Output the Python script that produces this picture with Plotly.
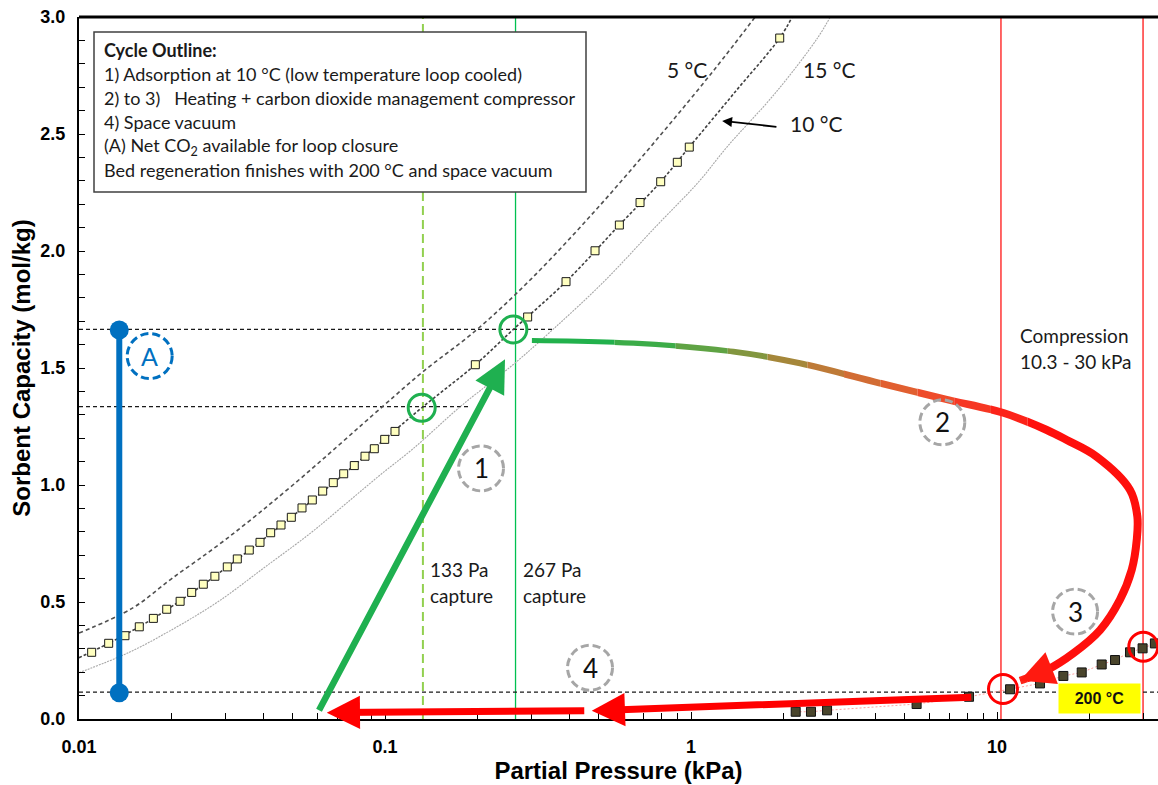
import numpy as np
import plotly.graph_objects as go

# ---------------- data ----------------
# 10 °C isotherm measured points (square markers)
P10_pts = [0.0110, 0.0125, 0.01413, 0.01574, 0.0175, 0.01935, 0.0214, 0.02335, 0.02548, 0.0278,
           0.03052, 0.03291, 0.03601, 0.03904, 0.0423, 0.04572, 0.04941, 0.05355, 0.05786, 0.06257,
           0.06776, 0.07328, 0.07936, 0.08602, 0.09226, 0.09977, 0.1078, 0.1973, 0.2925, 0.3904,
           0.4856, 0.5832, 0.6814, 0.796, 0.902, 0.987, 1.949]
Q10_pts = [0.285, 0.3235, 0.356, 0.394, 0.430, 0.469, 0.503, 0.541, 0.576, 0.610,
           0.650, 0.684, 0.722, 0.755, 0.796, 0.829, 0.862, 0.902, 0.936, 0.974,
           1.010, 1.048, 1.083, 1.123, 1.155, 1.195, 1.229, 1.514, 1.718, 1.869,
           2.001, 2.111, 2.207, 2.296, 2.379, 2.444, 2.910]

# isotherm curves
P10_line = [0.01, 0.0125, 0.0175, 0.025, 0.035, 0.05, 0.07, 0.1, 0.1318, 0.1973, 0.2627, 0.3904,
            0.5832, 0.796, 0.987, 1.4, 1.949, 2.14]
Q10_line = [0.262, 0.3235, 0.430, 0.567, 0.709, 0.868, 1.024, 1.197, 1.33, 1.514, 1.665, 1.869,
            2.111, 2.296, 2.444, 2.683, 2.91, 3.0]
P5_line = [0.01, 0.015, 0.02, 0.03, 0.05, 0.0985, 0.133, 0.2, 0.3, 0.5, 0.8, 1.2, 1.62]
Q5_line = [0.367, 0.475, 0.598, 0.765, 1.00, 1.337, 1.484, 1.665, 1.88, 2.19, 2.50, 2.78, 3.0]
P15_line = [0.01, 0.0146, 0.0209, 0.0286, 0.0406, 0.0573, 0.077, 0.0975, 0.1235, 0.177, 0.262,
            0.354, 0.519, 0.776, 1.06, 1.31, 1.9, 2.59, 2.85]
Q15_line = [0.198, 0.285, 0.394, 0.503, 0.650, 0.796, 0.936, 1.048, 1.155, 1.337, 1.514,
            1.665, 1.869, 2.111, 2.296, 2.444, 2.68, 2.91, 3.0]

# 200 °C isotherm points
P200 = [2.198, 2.466, 2.783, 5.46, 8.10, 11.03, 13.82, 16.47, 18.91, 21.98, 24.3, 27.2, 29.9, 32.8]
Q200 = [0.031, 0.031, 0.037, 0.064, 0.095, 0.127, 0.152, 0.184, 0.199, 0.233, 0.252, 0.285, 0.302, 0.323]

# reference lines
H_Q = [1.665, 1.335, 0.115]          # horizontal dashed lines
H_Pend = [0.354, 0.19, 40.0]         # where each horizontal line stops
V_capture = [0.133, 0.267]           # capture pressures (kPa)
V_compress = [10.3, 30.0]            # compression range (kPa)

# state points
P_green_c = [0.1318, 0.2627]
Q_green_c = [1.330, 1.665]
P_red_c = [10.46, 30.06]
Q_red_c = [0.128, 0.309]
P_A = [0.01354, 0.01354]
Q_A = [0.112, 1.662]

# step 2/3 path (heating + compression)
C2_P = [0.302, 0.648, 1.375, 2.271, 4.146, 6.85, 10.49, 14.54, 16.9, 21.17, 27.2, 28.74, 28.61,
        27.55, 25.2, 21.71, 17.76, 14.54, 11.89]
C2_Q = [1.617, 1.606, 1.570, 1.520, 1.435, 1.365, 1.308, 1.235, 1.192, 1.121, 0.979, 0.865, 0.765,
        0.637, 0.509, 0.380, 0.281, 0.209, 0.164]

# straight arrows: (tail P, tail Q, tip P, tip Q)
ARROW1 = (0.0605, 0.031, 0.2467, 1.537)
ARROW4A = (8.33, 0.093, 0.4737, 0.0355)
ARROW4B = (0.4529, 0.0355, 0.0645, 0.027)
ARROW10C = (1.923, 2.53, 1.264, 2.556)

# step labels
STEP_LABELS = ["1", "2", "3", "4"]
STEP_P = [0.2059, 6.625, 17.99, 0.4677]
STEP_Q = [1.071, 1.268, 0.459, 0.219]
LABEL_A_P, LABEL_A_Q = 0.01702, 1.551

# text labels
ISO_TEXT = ["5 °C", "15 °C", "10 °C"]
ISO_P = [0.97, 2.825, 2.562]
ISO_Q = [2.774, 2.774, 2.547]

OUTLINE = ["<b>Cycle Outline:</b>",
           "1) Adsorption at 10 °C (low temperature loop cooled)",
           "2) to 3)\u00a0\u00a0 Heating + carbon dioxide management compressor",
           "4) Space vacuum",
           "(A) Net CO<sub>2</sub> available for loop closure",
           "Bed regeneration finishes with 200 °C and space vacuum"]

XTICKS = [0.01, 0.1, 1, 10]
XTICKTEXT = ["0.01", "0.1", "1", "10"]
XMINOR = [m * d for d in [0.01, 0.1, 1, 10] for m in range(2, 10)]
X_RANGE = [-2, 1.526]
Y_RANGE = [0, 3]

# ---------------- styles / geometry ----------------
FONT_TXT = "Lato, 'Noto Sans', sans-serif"
FONT_AX = "'Liberation Sans', Arial, sans-serif"
# colour bands (log10 kPa edges) for the heating path colour ramp
BAND_EDGES = [-0.60, -0.25, -0.05, 0.12, 0.25, 0.38, 0.50, 0.62, 0.74, 0.86, 0.98, 1.10, 1.526]
BAND_COLORS = ["rgb(34,177,76)", "rgb(60,172,72)", "rgb(95,163,68)", "rgb(130,150,63)",
               "rgb(165,135,58)", "rgb(190,122,55)", "rgb(210,108,52)", "rgb(225,95,48)",
               "rgb(238,75,42)", "rgb(246,55,35)", "rgb(252,35,25)", "rgb(255,15,12)"]
W, H, ML, MT, MB = 1158, 785, 79, 17, 66
PW, PH = W - ML, H - MT - MB
SPAN = X_RANGE[1] - X_RANGE[0]
PX_PER_DEC = PW / SPAN
PX_PER_Y = PH / (Y_RANGE[1] - Y_RANGE[0])

fig = go.Figure()

def line(x, y, color, width, dash="solid", shape="linear", xaxis="x"):
    fig.add_trace(go.Scatter(x=x, y=y, mode="lines", hoverinfo="skip", showlegend=False, xaxis=xaxis,
                             line=dict(color=color, width=width, dash=dash, shape=shape,
                                       simplify=False)))

# vertical reference lines
line([V_capture[0]] * 2, Y_RANGE, "#92d050", 2, "9px,5px")
line([V_capture[1]] * 2, Y_RANGE, "#00c050", 1.3)
for v in V_compress:
    line([v, v], Y_RANGE, "#ff0000", 1.2)
# horizontal dashed lines
for q, pe in zip(H_Q, H_Pend):
    line([10 ** X_RANGE[0], pe], [q, q], "#1a1a1a", 1.1, "4px,3px")

# isotherms
line(P15_line, Q15_line, "#a8a8a8", 1.1, "2px,1px", "spline")
line(P5_line, Q5_line, "#505050", 1.6, "4px,3px", "spline")
line(P10_line, Q10_line, "#404040", 1.6, "3px,2px", "spline")
fig.add_trace(go.Scatter(x=P10_pts, y=Q10_pts, mode="markers", showlegend=False, hoverinfo="skip",
                         marker=dict(symbol="square", size=8, color="#ffffc0",
                                     line=dict(color="#1a1a1a", width=1))))
fig.add_trace(go.Scatter(x=P200, y=Q200, mode="lines+markers", showlegend=False, hoverinfo="skip",
                         line=dict(color="rgba(255,120,120,0.7)", width=1, dash="2px,2px"),
                         marker=dict(symbol="square", size=9, color="#4a452c",
                                     line=dict(color="#111111", width=1))))

# (A) net CO2 bar
fig.add_trace(go.Scatter(x=P_A, y=Q_A, mode="lines+markers", showlegend=False, hoverinfo="skip",
                         line=dict(color="#0070c0", width=6),
                         marker=dict(size=19, color="#0070c0")))

# state circles
fig.add_trace(go.Scatter(x=P_green_c, y=Q_green_c, mode="markers", showlegend=False, hoverinfo="skip",
                         marker=dict(symbol="circle-open", size=27, color="#1fb050",
                                     line=dict(width=3, color="#1fb050"))))
fig.add_trace(go.Scatter(x=P_red_c, y=Q_red_c, mode="markers", showlegend=False, hoverinfo="skip",
                         marker=dict(symbol="circle-open", size=29, color="#ff0000",
                                     line=dict(width=3, color="#ff0000"))))

# step 2/3 path: the same smooth curve drawn in each colour band, each band clipped by its own
# hidden, transparent x-axis whose domain/range match a slice of the main axis
band_axes = {}
nb = len(BAND_COLORS)
for k in range(nb):
    b0, b1 = BAND_EDGES[k], BAND_EDGES[k + 1]
    name = "xaxis%d" % (k + 2)
    band_axes[name] = dict(type="log", range=[b0, b1], visible=False, anchor="y", fixedrange=True,
                           domain=[(b0 - X_RANGE[0]) / SPAN, (b1 - X_RANGE[0]) / SPAN])
    line(C2_P, C2_Q, BAND_COLORS[k], 5 + 3.0 * k / (nb - 1), shape="spline", xaxis="x%d" % (k + 2))

L = np.log10

def arrow(a, color, width, size):
    tp, tq, hp, hq = a
    fig.add_annotation(x=L(hp), y=hq, ax=L(tp), ay=tq, xref="x", yref="y", axref="x", ayref="y",
                       text="", showarrow=True, arrowhead=2, arrowsize=size, arrowwidth=width,
                       arrowcolor=color, standoff=0)

arrow(ARROW1, "#1fb050", 6.5, 1.0)
arrow(ARROW4A, "#ff0000", 7, 0.95)
arrow(ARROW4B, "#ff0000", 7, 0.95)
arrow((C2_P[-2], C2_Q[-2], C2_P[-1], C2_Q[-1]), "#ff1a10", 8, 0.85)
arrow(ARROW10C, "#000000", 1.8, 1.1)

# dashed label circles (radius in screen pixels, converted to data units)
def dcircle(p, q, r, color):
    dl = r / PX_PER_DEC
    dq = r / PX_PER_Y
    fig.add_shape(type="circle", xref="x", yref="y",
                  x0=p * 10 ** (-dl), x1=p * 10 ** dl, y0=q - dq, y1=q + dq,
                  line=dict(color=color, width=3, dash="8px,4px"))

for t, p, q in zip(STEP_LABELS, STEP_P, STEP_Q):
    dcircle(p, q, 22.5, "#a6a6a6")
    fig.add_annotation(x=L(p), y=q, text=t, showarrow=False,
                       font=dict(family=FONT_TXT, size=26, color="#111111"))
dcircle(LABEL_A_P, LABEL_A_Q, 22.5, "#0070c0")
fig.add_annotation(x=L(LABEL_A_P), y=LABEL_A_Q, text="A", showarrow=False,
                   font=dict(family=FONT_TXT, size=25, color="#0070c0"))

for t, p, q in zip(ISO_TEXT, ISO_P, ISO_Q):
    fig.add_annotation(x=L(p), y=q, text=t, showarrow=False,
                       font=dict(family=FONT_TXT, size=21, color="#1a1a1a"))

def ltext(p, q, t, size=19):
    fig.add_annotation(x=L(p), y=q, text=t, showarrow=False, xanchor="left",
                       font=dict(family=FONT_TXT, size=size, color="#1a1a1a"))

ltext(0.1382, 0.641, "133 Pa")
ltext(0.1382, 0.526, "capture")
ltext(0.278, 0.641, "267 Pa")
ltext(0.278, 0.526, "capture")
ltext(11.71, 1.641, "Compression")
ltext(11.71, 1.526, "10.3 - 30 kPa")

fig.add_annotation(x=L(21.6), y=0.0876, text="<b>200 °C</b>", showarrow=False,
                   bgcolor="#ffff00", width=81, height=29, borderpad=0,
                   font=dict(family=FONT_AX, size=16, color="#111111"))

# outline box (paper coords)
def px(xp): return (xp - ML) / PW
def py(yp): return (H - MB - yp) / PH
fig.add_shape(type="rect", xref="paper", yref="paper", x0=px(94), x1=px(586), y0=py(192), y1=py(32),
              line=dict(color="#404040", width=1.5), fillcolor="white", layer="above")
for i, t in enumerate(OUTLINE):
    fig.add_annotation(xref="paper", yref="paper", x=px(102), y=py(50 + 24 * i), text=t,
                       showarrow=False, xanchor="left", yanchor="middle",
                       font=dict(family=FONT_TXT, size=18, color="#1a1a1a"))

# top frame line
fig.add_shape(type="line", xref="paper", yref="paper", x0=0, x1=1, y0=1, y1=1,
              line=dict(color="black", width=3))

fig.update_layout(
    width=W, height=H, margin=dict(l=ML, r=0, t=MT, b=MB),
    plot_bgcolor="rgba(0,0,0,0)", paper_bgcolor="white", showlegend=False,
    xaxis=dict(type="log", range=X_RANGE, tickvals=XTICKS, ticktext=XTICKTEXT,
               ticks="inside", ticklen=7, tickwidth=1, tickcolor="black",
               showline=True, linecolor="black", linewidth=2, showgrid=False, zeroline=False,
               minor=dict(tickvals=XMINOR, ticks="inside", ticklen=6, tickcolor="black", showgrid=False),
               tickfont=dict(family=FONT_AX, size=18, color="black", weight="bold"),
               ticklabelstandoff=10,
               title=dict(text="Partial Pressure (kPa)", standoff=2,
                          font=dict(family=FONT_AX, size=24, color="black", weight="bold"))),
    yaxis=dict(range=Y_RANGE, dtick=0.5, tickformat=".1f", ticks="inside", ticklen=6, tickcolor="black",
               showline=True, linecolor="black", linewidth=2, showgrid=False, zeroline=False,
               minor=dict(dtick=0.1, ticks="inside", ticklen=6, tickcolor="black", showgrid=False),
               tickfont=dict(family=FONT_AX, size=18, color="black", weight="bold"),
               ticklabelstandoff=8,
               title=dict(text="Sorbent Capacity (mol/kg)", standoff=3,
                          font=dict(family=FONT_AX, size=24, color="black", weight="bold"))),
    **band_axes,
)

fig.write_html("out.html", post_script="document.body.style.margin='0px';",
               config={"displayModeBar": False})
